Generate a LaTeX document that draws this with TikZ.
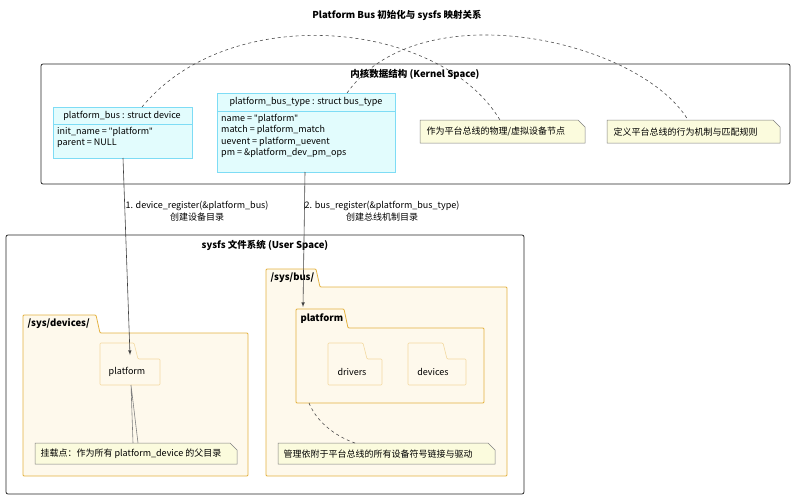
\documentclass[tikz,border=0pt]{standalone}
\usepackage{fontspec}
\setmainfont{Noto Sans CJK SC}
\newfontfamily\latinfont{Noto Sans}
\newcommand\dq{{\latinfont"}}
\usepackage{xcolor}
\definecolor{clsfill}{HTML}{E2FCFD}
\definecolor{clsline}{HTML}{7EDCF5}
\definecolor{pkgfill}{HTML}{FEF9EC}
\definecolor{pkgline}{HTML}{E4B240}
\definecolor{notefill}{HTML}{FBFBDD}
\definecolor{subline}{HTML}{F3D9A0}
\begin{document}
\begin{tikzpicture}[x=1pt,y=-1pt,font=\fontsize{9}{11.5}\selectfont,
  cls/.style={draw=clsline,fill=clsfill,line width=0.8pt},
  pkg/.style={draw=pkgline,fill=pkgfill,line width=0.8pt,rounded corners=1pt},
  sub/.style={draw=subline,fill=pkgfill,line width=0.6pt,rounded corners=1pt},
  note/.style={draw=gray,fill=notefill,line width=0.5pt},
  frame/.style={draw=black!85,line width=0.8pt,rounded corners=2pt},
  link/.style={draw=black!75,line width=0.6pt},
  dashlink/.style={draw=black!70,dashed,line width=0.6pt},
  hd/.style={font=\fontsize{9.5}{11}\selectfont\bfseries}]
\useasboundingbox (0,0) rectangle (795,498);
\node[hd] (title) at (397,15) {Platform Bus 初始化与 sysfs 映射关系};

% kernel space
\draw[frame] (41,64) rectangle (790,184);
\node[hd] (kernel) at (415,74) {内核数据结构 (Kernel Space)};

\draw[cls] (53,107) rectangle (192,158);
\draw[clsline] (53,124) -- (192,124);
\node (busT) at (122,116) {platform\_bus : struct device};
\node[anchor=north west,align=left,inner sep=0pt] at (57,127) {init\_name = \dq platform\dq\\parent = NULL};
\coordinate (busTop) at (142,107);
\coordinate (busBot) at (123,158);

\draw[cls] (217,93) rectangle (395,172);
\draw[clsline] (217,111) -- (395,111);
\node (typeT) at (306,102) {platform\_bus\_type : struct bus\_type};
\node[anchor=north west,align=left,inner sep=0pt] at (221,114)
  {name = \dq platform\dq\\match = platform\_match\\uevent = platform\_uevent\\pm = \&platform\_dev\_pm\_ops};
\coordinate (typeTop) at (347,93);
\coordinate (typeBot) at (305,172);

\draw[note] (420,120) -- (578,120) -- (585,127) -- (585,143) -- (420,143) -- cycle;
\node[anchor=west] (n1) at (423,132) {作为平台总线的物理/虚拟设备节点};
\draw[note] (607,120) -- (773,120) -- (780,127) -- (780,143) -- (607,143) -- cycle;
\node[anchor=west] (n2) at (610,132) {定义平台总线的行为机制与匹配规则};
\draw[dashlink] (busTop) .. controls (230,0) and (440,20) .. (500,120);
\draw[dashlink] (typeTop) .. controls (420,-10) and (640,40) .. (688,120);

% user space
\draw[frame] (6,235) rectangle (524,494);
\node[hd] (user) at (265,245) {sysfs 文件系统 (User Space)};

\draw[pkg] (23,333) -- (23,315) -- (96,315) -- (100,333) -- (248,333) -- (248,476) -- (23,476) -- cycle;
\node[hd,anchor=west] (devs) at (24,324) {/sys/devices/};
\draw[sub] (100,359) -- (100,343) -- (134,343) -- (138,359) -- (160,359) -- (160,385) -- (100,385) -- cycle;
\node (pf1) at (127,372) {platform};
\coordinate (pf1Top) at (130,355);
\coordinate (pf1Bot) at (131,385);

\draw[pkg] (266,287) -- (266,269) -- (316,269) -- (320,287) -- (507,287) -- (507,476) -- (266,476) -- cycle;
\node[hd,anchor=west] (bus) at (267,278) {/sys/bus/};
\draw[pkg] (296,328) -- (296,309) -- (344,309) -- (348,328) -- (484,328) -- (484,403) -- (296,403) -- cycle;
\node[hd,anchor=west] (pf2) at (297,319) {platform};
\coordinate (pf2Top) at (303,307);
\coordinate (pf2Bot) at (309,403);
\draw[sub] (328,359) -- (328,343) -- (363,343) -- (367,359) -- (382,359) -- (382,385) -- (328,385) -- cycle;
\node (drv) at (352,372) {drivers};
\draw[sub] (408,359) -- (408,343) -- (443,343) -- (447,359) -- (466,359) -- (466,385) -- (408,385) -- cycle;
\node (dev) at (433,372) {devices};

\draw[note] (35,443) -- (230,443) -- (237,450) -- (237,464) -- (35,464) -- cycle;
\node[anchor=west] (n3) at (37,454) {挂载点：作为所有 platform\_device 的父目录};
\draw[note] (278,443) -- (488,443) -- (495,450) -- (495,464) -- (278,464) -- cycle;
\node[anchor=west] (n4) at (280,454) {管理依附于平台总线的所有设备符号链接与驱动};
\draw[link,draw=gray] (pf1Bot) -- (133,443) (pf1Bot) -- (138,443);
\draw[dashlink] (pf2Bot) .. controls (318,425) and (340,438) .. (355,443);

% registrations
\draw[link,-latex] (busBot) -- (pf1Top);
\node[align=center] (l1) at (197,211) {1. device\_register(\&platform\_bus)\\创建设备目录};
\draw[link,-latex] (typeBot) -- (pf2Top);
\node[align=center] (l2) at (382,211) {2. bus\_register(\&platform\_bus\_type)\\创建总线机制目录};
\end{tikzpicture}
\end{document}
